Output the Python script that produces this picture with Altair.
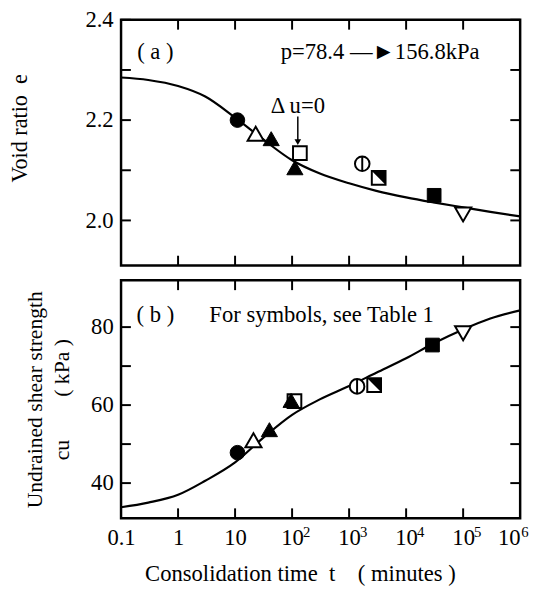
import altair as alt
import pandas as pd

FONT = "Liberation Serif"

# ---- axis ticks / labels ----
x_ticks = [0.1, 1, 10, 100, 1000, 10000, 100000, 1000000]
x_tick_base = ["0.1", "1", "10", "10", "10", "10", "10", "10"]
x_tick_exp = ["", "", "", "2", "3", "4", "5", "6"]
ya_ticks = [2.0, 2.1, 2.2, 2.3, 2.4]
ya_labels = [2.0, 2.2, 2.4]
yb_ticks = [40, 50, 60, 70, 80]
yb_labels = [40, 60, 80]

# ---- measured symbols ----
symbols = ["circle_f", "tri_o", "tri_f", "sq_o", "tri_f", "phi", "half", "sq_f", "itri_o"]
t_a = [11, 23, 43, 137, 112, 1700, 3300, 31000, 100000]
e_a = [2.200, 2.173, 2.163, 2.134, 2.105, 2.113, 2.085, 2.050, 2.012]
t_b = [11, 21, 40, 110, 96, 1380, 2750, 29000, 100000]
cu_b = [47.8, 51.0, 53.7, 61.0, 61.2, 64.8, 65.1, 75.4, 78.4]

# ---- fitted curves ----
curve_t = [0.1, 0.3, 1, 3, 10, 30, 100, 300, 1000, 3000, 10000, 30000, 100000, 300000, 1000000]
curve_e = [2.285, 2.280, 2.268, 2.247, 2.205, 2.163, 2.120, 2.094, 2.074, 2.059, 2.046, 2.036, 2.026, 2.017, 2.008]
curve_cu = [33.8, 35.0, 37.0, 40.6, 45.3, 51.4, 57.5, 61.4, 64.9, 68.3, 72.0, 75.8, 79.4, 82.2, 84.3]

# ---- annotations ----
ann_a_text = ["( a )", "p=78.4 \u2014\u25ba156.8kPa", "\u0394 u=0"]
ann_a_t = [0.4, 3500, 126]
ann_a_v = [2.335, 2.335, 2.2275]
arrow_t = [126]
arrow_top = [2.207]
arrow_tip = [2.156]
ann_b_text = ["( b )", "For symbols, see Table 1"]
ann_b_t = [0.4, 330]
ann_b_v = [83.0, 83.0]

shape_of = {"circle_f": "circle", "tri_o": "triangle-up", "tri_f": "triangle-up",
            "sq_o": "square", "sq_f": "square", "itri_o": "triangle-down",
            "phi": "circle", "half": "square"}
size_of = {"circle": 220, "square": 195, "triangle-up": 270, "triangle-down": 270}
filled_set = {"circle_f", "tri_f", "sq_f"}

W = 406
HA = 250
HB = 242
FS = 23

label_expr = " : ".join(
    f"abs(datum.value - {v}) < {v * 1e-3} ? '{s}'" for v, s in zip(x_ticks, x_tick_base)
) + " : ''"

xscale = alt.Scale(type="log", domain=[0.1, 1e6], nice=False)


def sym_frame(ts, vs):
    df = pd.DataFrame({"t": ts, "v": vs, "sym": symbols})
    df["shape"] = df["sym"].map(shape_of)
    df["size"] = df["shape"].map(size_of)
    df["filled"] = df["sym"].isin(filled_set).astype(int)
    return df


def panel(ts, vs, cvals, yscale, yaxis, xaxis, yt, H, texts):
    X = alt.X("t:Q", scale=xscale, axis=xaxis)
    Y = alt.Y("v:Q", scale=yscale, axis=yaxis)
    pts = sym_frame(ts, vs)
    frame = alt.Chart(pd.DataFrame({"t": [1]})).mark_rect(
        fill=None, stroke="black", strokeWidth=2.5
    ).encode(x=alt.value(0), x2=alt.value(W), y=alt.value(0), y2=alt.value(H))
    curve = alt.Chart(pd.DataFrame({"t": curve_t, "v": cvals})).mark_line(
        color="black", strokeWidth=2.2, interpolate="monotone"
    ).encode(x=X, y=Y)
    base = alt.Chart(pts).encode(
        x=X, y=Y,
        shape=alt.Shape("shape:N", scale=None),
        size=alt.Size("size:Q", scale=None),
    )
    open_pts = base.transform_filter("datum.filled == 0").mark_point(
        filled=True, fill="white", stroke="black", strokeWidth=2, opacity=1
    )
    fill_pts = base.transform_filter("datum.filled == 1").mark_point(
        filled=True, fill="black", stroke="black", strokeWidth=1, opacity=1
    )
    phi = alt.Chart(pts).transform_filter("datum.sym == 'phi'").mark_point(
        shape="M0,-1L0,1", filled=False, stroke="black", strokeWidth=2, size=220, opacity=1
    ).encode(x=X, y=Y)
    half = alt.Chart(pts).transform_filter("datum.sym == 'half'").mark_point(
        shape="M-1,-1L1,-1L1,1Z", filled=True, fill="black", strokeWidth=0, size=195, opacity=1
    ).encode(x=X, y=Y)
    xt = alt.Chart(pd.DataFrame({"t": x_ticks[1:-1]})).mark_rule(color="black", strokeWidth=2)
    xt_top = xt.encode(x=X, y=alt.value(0), y2=alt.value(10))
    xt_bot = xt.encode(x=X, y=alt.value(H), y2=alt.value(H - 10))
    ytk = alt.Chart(pd.DataFrame({"v": yt})).mark_rule(color="black", strokeWidth=2)
    yt_l = ytk.encode(y=Y, x=alt.value(0), x2=alt.value(10))
    yt_r = ytk.encode(y=Y, x=alt.value(W), x2=alt.value(W - 10))
    txt = alt.Chart(pd.DataFrame(texts)).mark_text(
        font=FONT, fontSize=FS, align="center", baseline="middle", color="black"
    ).encode(x=X, y=Y, text="label:N")
    layers = [curve, open_pts, fill_pts, phi, half, xt_top, xt_bot, yt_l, yt_r, txt, frame]
    return layers, X, Y


yaxis_a = alt.Axis(values=ya_labels, format=".1f", domain=False, ticks=False, tickSize=0,
                   grid=False, labelFontSize=FS, labelPadding=8, labelFont=FONT,
                   title="Void ratio\u2002e", titleFont=FONT, titleFontSize=22.5,
                   titleFontWeight="normal", titleX=-103, titleY=110, titleBaseline="middle")
yaxis_b = alt.Axis(values=yb_labels, domain=False, ticks=False, tickSize=0,
                   grid=False, labelFontSize=FS, labelPadding=8, labelFont=FONT,
                   title=["Undrained shear strength", "cu\u2003\u2003( kPa )"], titleFont=FONT,
                   titleFontSize=22, titleFontWeight="normal", titleLineHeight=28,
                   titleX=-88, titleY=121, titleBaseline="middle")
xaxis_b = alt.Axis(values=x_ticks, labelExpr=label_expr, domain=False, ticks=False, tickSize=0,
                   grid=False, labelFlush=False, labelOverlap=False, labelFontSize=FS,
                   labelFont=FONT, labelPadding=9,
                   labelAlign={"condition": {"test": "datum.value > 500000", "value": "right"},
                               "value": "center"},
                   title="Consolidation time\u2002t\u2002\u2002( minutes )", titleFont=FONT,
                   titleFontSize=23, titleFontWeight="normal", titlePadding=13, titleX=182)

ya_scale = alt.Scale(domain=[1.91, 2.4], nice=False, zero=False)
yb_scale = alt.Scale(domain=[31, 92], nice=False, zero=False)

layers_a, Xa, Ya = panel(t_a, e_a, curve_e, ya_scale, yaxis_a, None, ya_ticks, HA,
                         {"t": ann_a_t, "v": ann_a_v, "label": ann_a_text})
arrow_df = pd.DataFrame({"t": arrow_t, "v": arrow_top, "v2": arrow_tip})
shaft = alt.Chart(arrow_df).mark_rule(color="black", strokeWidth=1.5).encode(
    x=Xa, y=Ya, y2="v2:Q")
head = alt.Chart(arrow_df).mark_point(shape="triangle-down", filled=True, fill="black",
                                      size=45, opacity=1).encode(
    x=Xa, y=alt.Y("v2:Q", scale=ya_scale, axis=yaxis_a))
panel_a = alt.layer(*layers_a, shaft, head).properties(width=W, height=HA)

layers_b, Xb, Yb = panel(t_b, cu_b, curve_cu, yb_scale, yaxis_b, xaxis_b, yb_ticks, HB,
                         {"t": ann_b_t, "v": ann_b_v, "label": ann_b_text})
exp_df = pd.DataFrame({"t": x_ticks, "e": x_tick_exp})
exp_mid = alt.Chart(exp_df).transform_filter("datum.e != '' && datum.t < 500000").mark_text(
    font=FONT, fontSize=15, align="left", baseline="top", dx=11, color="black"
).encode(x=Xb, y=alt.value(HB + 7), text="e:N")
exp_last = alt.Chart(exp_df).transform_filter("datum.t > 500000").mark_text(
    font=FONT, fontSize=15, align="left", baseline="top", dx=1, color="black"
).encode(x=Xb, y=alt.value(HB + 7), text="e:N")
panel_b = alt.layer(*layers_b, exp_mid, exp_last).properties(width=W, height=HB)

chart = alt.vconcat(panel_a, panel_b, spacing=15, bounds="flush").properties(
    padding={"left": 0, "top": -4, "right": 0, "bottom": -2}
).configure(font=FONT).configure_view(strokeWidth=0)

chart.save("out.html", embed_options={"renderer": "svg", "actions": False})
